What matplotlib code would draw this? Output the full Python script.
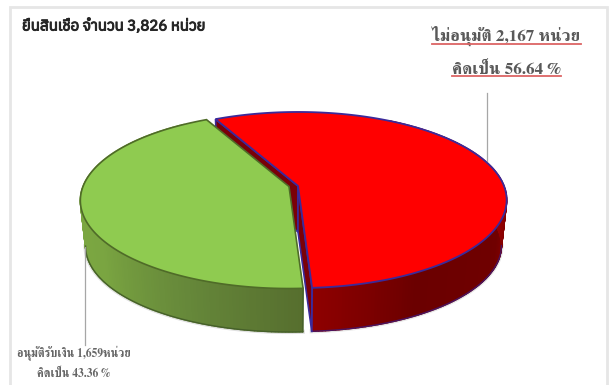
import numpy as np
import matplotlib
matplotlib.use("Agg")
import matplotlib.pyplot as plt
import matplotlib.patheffects as pe
from matplotlib import font_manager as fm
from matplotlib.patches import Polygon, Rectangle
from matplotlib.colors import to_rgb

# Loan application outcomes
categories = ["ไม่อนุมัติ", "อนุมัติรับเงิน"]
units = [2167, 1659]
title_text = "ยื่นสินเชื่อ จำนวน 3,826 หน่วย"
rejected_lines = ["ไม่อนุมัติ 2,167 หน่วย", "คิดเป็น 56.64 %"]
approved_lines = ["อนุมัติรับเงิน 1,659หน่วย", "คิดเป็น 43.36 %"]

# Pick fonts that actually carry Thai glyphs, when any are installed
thai = []
for f in fm.fontManager.ttflist:
    try:
        if 0x0E2D in fm.get_font(f.fname).get_charmap():
            thai.append(f.name)
    except Exception:
        pass
thai = sorted(set(thai))
sans = thai + ["Noto Sans", "DejaVu Sans"]
serif = [n for n in thai if "Serif" in n] + thai + ["Liberation Serif", "DejaVu Serif"]

fig = plt.figure(figsize=(6.1, 3.85), dpi=100)
ax = fig.add_axes([0, 0, 1, 1])
ax.set_xlim(0, 610)
ax.set_ylim(385, 0)
ax.axis("off")

# Panel frame
ax.add_patch(Rectangle((10, 7), 597, 390, fc="white", ec="#E6E6E6", lw=2, zorder=0))

# Perspective disc projection
A, B, K = 206.0, 85.8, 0.159
DROP, SHRINK = 46.0, 0.975
START = 117.2
# Angle at which the rim reaches its widest point on screen
WIDEST = np.degrees(np.arcsin(K))


def rim(theta_deg, cx, cy, lower=False):
    t = np.radians(np.asarray(theta_deg, dtype=float))
    s = 1 / (1 + K * np.sin(t))
    x, y = A * np.cos(t) * s, -B * np.sin(t) * s
    if lower:
        return cx + SHRINK * x, cy + SHRINK * y + DROP
    return cx + x, cy + y


def hub(cx, cy, lower=False):
    return (cx, cy + DROP) if lower else (cx, cy)


def shaded_side(angles, stops, colors, cx, cy, z):
    channels = np.array([to_rgb(c) for c in colors])
    for a0, a1 in zip(angles[:-1], angles[1:]):
        mid = (a0 + a1) / 2
        col = [np.interp(mid, stops, channels[:, i]) for i in range(3)]
        x0, y0 = rim([a0, a1], cx, cy)
        x1, y1 = rim([a1, a0], cx, cy, lower=True)
        ax.add_patch(Polygon(np.c_[np.r_[x0, x1], np.r_[y0, y1]], fc=col, ec=col, lw=1.0, zorder=z))


fractions = np.array(units) / sum(units)
red_end = START - 360 * fractions[0]
green_end = START + 360 * fractions[1]

# Rejected slice
rc = (298.0, 186.0)
tip = rim(START, *rc)
tip_low = rim(START, *rc, lower=True)
end = rim(red_end, *rc)
end_low = rim(red_end, *rc, lower=True)
face = "#7A0008"
edge = "#3B2A9A"
ax.add_patch(Polygon([tip, rc, hub(*rc, True), tip_low], fc=face, ec=edge, lw=1.2, zorder=1))
ax.add_patch(Polygon([rc, end, end_low, hub(*rc, True)], fc=face, ec=edge, lw=1.2, zorder=1))
lower_edge = np.linspace(red_end, -WIDEST, 120)
ax.plot(*rim(lower_edge, *rc, lower=True), color="#999999", lw=3, alpha=0.25, zorder=1)
side_angles = np.linspace(red_end, 60, 180)
shaded_side(side_angles, [-86, -60, -25, 0, 60], ["#8E0000", "#6B0000", "#700000", "#930000", "#930000"], *rc, 2)
ax.plot(*rim(lower_edge, *rc, lower=True), color="#4A1460", lw=1.0, zorder=3)
ax.plot([end[0], end_low[0]], [end[1], end_low[1]], color=edge, lw=1.4, zorder=3)
angles = np.linspace(START, red_end, 300)
xs, ys = rim(angles, *rc)
ax.add_patch(Polygon(np.c_[np.r_[rc[0], xs], np.r_[rc[1], ys]], fc="#FF0000", ec=edge, lw=1.3, joinstyle="miter", zorder=4))

# Approved slice
gc = (289.0, 186.5)
lower_edge = np.linspace(180 + WIDEST, green_end, 120)
ax.plot(*rim(lower_edge, *gc, lower=True), color="#999999", lw=3, alpha=0.3, zorder=4.5)
side_angles = np.linspace(125, green_end, 180)
shaded_side(side_angles, [125, 215, 245, 274], ["#80AD45", "#7AA541", "#66883A", "#566E2E"], *gc, 5)
ax.plot(*rim(lower_edge, *gc, lower=True), color="#46602A", lw=1.0, zorder=6)
gend = rim(green_end, *gc)
gend_low = rim(green_end, *gc, lower=True)
ax.plot([gend[0], gend_low[0]], [gend[1], gend_low[1]], color="#46602A", lw=1.0, zorder=6)
angles = np.linspace(START, green_end, 300)
xs, ys = rim(angles, *gc)
ax.add_patch(Polygon(np.c_[np.r_[gc[0], xs], np.r_[gc[1], ys]], fc="#8FCB50", ec="#4F6B28", lw=1.2, zorder=7))

# Leader lines
ax.plot([487, 487], [93, 161], color="#A6A6A6", lw=0.9, zorder=8)
ax.plot([85, 85], [247, 345], color="#A6A6A6", lw=0.9, zorder=8)

# Text, thickened with a thin stroke because the Thai faces have no bold weight
ax.text(22, 26, title_text, family=sans, fontsize=10.8, color="#262626", va="center", ha="left", zorder=9,
        path_effects=[pe.withStroke(linewidth=0.7, foreground="#262626")])
for line, y in zip(rejected_lines, (36, 69)):
    ax.text(506, y, line, family=serif, fontsize=12.3, fontweight="bold", color="#595959", ha="center", va="center", zorder=9)
ax.plot([432, 581], [44, 44], color="#DC6464", lw=1.3, zorder=9)
ax.plot([452, 561], [76, 76], color="#DC6464", lw=1.3, zorder=9)
for line, y in zip(approved_lines, (353, 374)):
    ax.text(74, y, line, family=serif, fontsize=8.3, fontweight="bold", color="#666666", ha="center", va="center", zorder=9)

fig.savefig("out.png", dpi=100)
